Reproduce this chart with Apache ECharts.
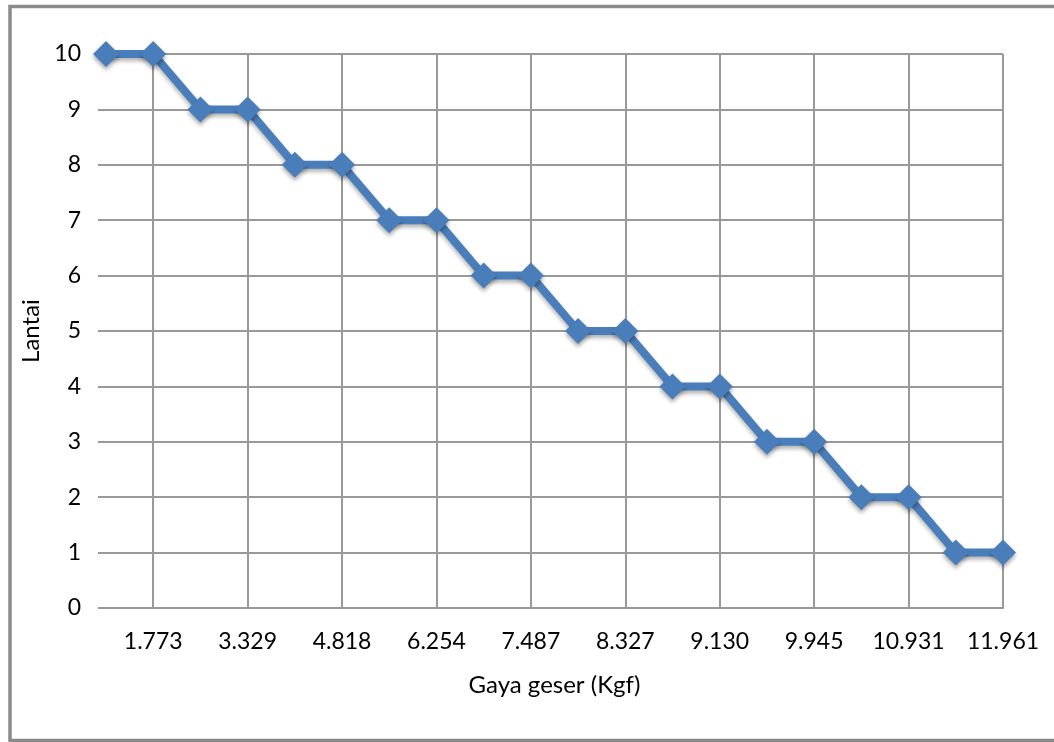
<!DOCTYPE html>
<html>
<head>
<meta charset="utf-8">
<script src="https://cdn.jsdelivr.net/npm/echarts@6/dist/echarts.min.js"></script>
<style>
html,body{margin:0;padding:0;background:#fff;}
#chart{width:1054px;height:742px;}
</style>
</head>
<body>
<div id="chart"></div>
<script>
const categories = ["0","1.773","1.773","3.329","3.329","4.818","4.818","6.254","6.254","7.487","7.487","8.327","8.327","9.130","9.130","9.945","9.945","10.931","10.931","11.961"];
const lantai = [10,10,9,9,8,8,7,7,6,6,5,5,4,4,3,3,2,2,1,1];
const yTicks = {min:0, max:10, interval:1};
const xTitle = "Gaya geser (Kgf)";
const yTitle = "Lantai";

const FONT = "Lato, 'Open Sans', sans-serif";
const GRID = '#999999';
const chart = echarts.init(document.getElementById('chart'));
chart.setOption({
  animation:false,
  backgroundColor:'#ffffff',
  graphic:[{
    type:'rect', silent:true, z:-1,
    shape:{x:10, y:6.5, width:1100, height:734},
    style:{fill:'none', stroke:'#8a8a8a', lineWidth:3.5}
  }],
  grid:{left:106, right:51, top:54, bottom:134},
  xAxis:{
    type:'category', data:categories, boundaryGap:false,
    axisLine:{show:true, lineStyle:{color:GRID, width:2}},
    axisTick:{show:false},
    splitLine:{show:true, lineStyle:{color:GRID, width:2}},
    axisLabel:{interval:(i)=> i % 2 === 1, margin:22, fontSize:23, color:'#000', fontFamily:FONT},
    name:xTitle, nameLocation:'middle', nameGap:65,
    nameTextStyle:{fontSize:24, color:'#000', fontFamily:FONT}
  },
  yAxis:{
    type:'value', min:yTicks.min, max:yTicks.max, interval:yTicks.interval,
    axisLine:{show:false},
    axisTick:{show:true, length:8, lineStyle:{color:GRID, width:2}},
    splitLine:{show:true, lineStyle:{color:GRID, width:2}},
    axisLabel:{margin:25, fontSize:23, color:'#000', fontFamily:FONT},
    name:yTitle, nameLocation:'middle', nameGap:61, nameRotate:90,
    nameTextStyle:{fontSize:24, color:'#000', fontFamily:FONT}
  },
  series:[{
    type:'line', data:lantai,
    symbol:'diamond', symbolSize:[26,26],
    lineStyle:{color:'#4a7ebb', width:8, shadowColor:'rgba(0,0,0,0.3)', shadowBlur:4, shadowOffsetY:3},
    itemStyle:{color:'#4a7ebb', shadowColor:'rgba(0,0,0,0.35)', shadowBlur:4, shadowOffsetY:3},
    z:3
  }]
});
</script>
</body>
</html>
